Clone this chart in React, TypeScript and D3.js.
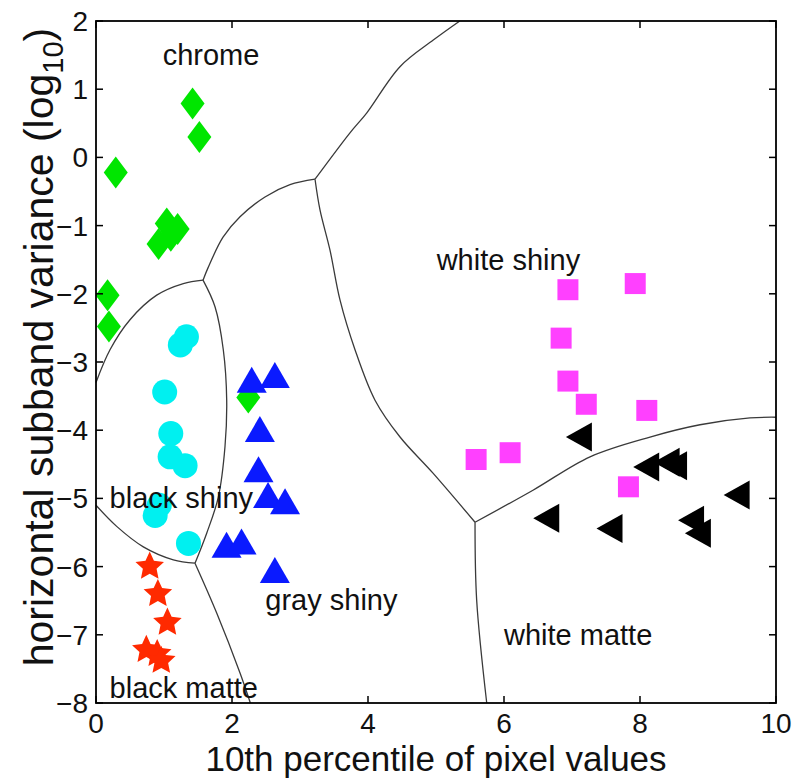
import React from "react";
import * as d3 from "d3";

// ---------- data ----------
const xTicks = [0, 2, 4, 6, 8, 10];
const yTicks = [2, 1, 0, -1, -2, -3, -4, -5, -6, -7, -8];

const chrome: [number, number][] = [
  [1.42, 0.79], [1.52, 0.30], [0.29, -0.22], [1.04, -0.97], [1.20, -1.05],
  [1.10, -1.15], [0.92, -1.27], [0.17, -2.02], [0.19, -2.48], [2.24, -3.52],
];
const blackShiny: [number, number][] = [
  [1.33, -2.63], [1.24, -2.75], [1.01, -3.44], [1.10, -4.05], [1.09, -4.39],
  [1.31, -4.52], [0.93, -5.10], [0.87, -5.25], [1.36, -5.66],
];
const blackMatte: [number, number][] = [
  [0.79, -6.0], [0.91, -6.4], [1.05, -6.82], [0.74, -7.22], [0.90, -7.28], [0.96, -7.38],
];
const grayShiny: [number, number][] = [
  [2.29, -3.32], [2.63, -3.25], [2.41, -4.04], [2.39, -4.63], [2.53, -5.01],
  [2.78, -5.10], [1.92, -5.74], [2.14, -5.69], [2.63, -6.11],
];
const whiteShiny: [number, number][] = [
  [6.94, -1.94], [7.93, -1.85], [6.84, -2.65], [6.94, -3.28], [7.21, -3.62],
  [8.10, -3.71], [6.09, -4.33], [5.59, -4.43], [7.83, -4.83],
];
const whiteMatte: [number, number][] = [
  [7.16, -4.10], [8.15, -4.54], [8.45, -4.47], [8.56, -4.52], [9.48, -4.95],
  [6.68, -5.29], [7.61, -5.44], [8.81, -5.32], [8.91, -5.51],
];

// decision boundaries (data coordinates)
const boundaryChromeBlackShiny: [number, number][] = [
  [0, -3.3], [0.206, -2.82], [0.5, -2.38], [0.893, -2.02], [1.284, -1.85], [1.574, -1.80],
];
const boundaryChromeGrayShiny: [number, number][] = [
  [1.574, -1.80], [1.647, -1.62], [1.868, -1.17], [2.118, -0.87], [2.485, -0.58], [2.853, -0.40], [3.221, -0.32],
];
const boundaryChromeWhiteShiny: [number, number][] = [
  [3.221, -0.32], [3.735, 0.36], [3.98, 0.65], [4.47, 1.33], [4.96, 1.72], [5.35, 2.0],
];
const boundaryGrayWhiteShiny: [number, number][] = [
  [3.221, -0.32], [3.294, -0.77], [3.441, -1.36], [3.588, -2.09], [3.809, -2.82],
  [4.103, -3.56], [4.471, -4.10], [4.956, -4.63], [5.574, -5.35],
];
const boundaryWhiteShinyMatte: [number, number][] = [
  [5.574, -5.35], [6.426, -4.88], [7.265, -4.39], [8.147, -4.10], [8.882, -3.92], [9.618, -3.82], [10, -3.81],
];
const boundaryGrayWhiteMatte: [number, number][] = [
  [5.574, -5.35], [5.598, -6.49], [5.746, -8.0],
];
const boundaryBlackGrayShiny: [number, number][] = [
  [1.574, -1.80], [1.75, -2.19], [1.872, -2.82], [1.922, -3.56], [1.897, -4.24],
  [1.799, -4.98], [1.628, -5.51], [1.456, -5.95],
];
const boundaryBlackShinyMatte: [number, number][] = [
  [0, -5.10], [0.304, -5.41], [0.696, -5.71], [1.137, -5.90], [1.456, -5.95],
];
const boundaryBlackMatteGray: [number, number][] = [
  [1.456, -5.95], [1.775, -6.68], [2.118, -7.56], [2.27, -8.0],
];

const boundaries = [
  boundaryChromeBlackShiny, boundaryChromeGrayShiny, boundaryChromeWhiteShiny,
  boundaryGrayWhiteShiny, boundaryWhiteShinyMatte, boundaryGrayWhiteMatte,
  boundaryBlackGrayShiny, boundaryBlackShinyMatte, boundaryBlackMatteGray,
];

const regionLabels: { text: string; x: number; y: number }[] = [
  { text: "chrome", x: 0.98, y: 1.35 },
  { text: "white shiny", x: 5.01, y: -1.65 },
  { text: "black shiny", x: 0.2, y: -5.14 },
  { text: "gray shiny", x: 2.49, y: -6.64 },
  { text: "white matte", x: 6.0, y: -7.15 },
  { text: "black matte", x: 0.2, y: -7.92 },
];

// ---------- layout ----------
const W = 796;
const H = 779;
const L = 96, R = 776, T = 21, B = 703;
const FONT = '"Liberation Sans", Arial, Helvetica, sans-serif';

const x = d3.scaleLinear().domain([0, 10]).range([L, R]);
const y = d3.scaleLinear().domain([-8, 2]).range([B, T]);

const line = d3
  .line<[number, number]>()
  .x((d) => x(d[0]))
  .y((d) => y(d[1]))
  .curve(d3.curveCatmullRom.alpha(0.5));

// marker shapes (pixel geometry)
const diamond = (cx: number, cy: number) =>
  `M${cx},${cy - 16}L${cx + 12},${cy}L${cx},${cy + 16}L${cx - 12},${cy}Z`;
const triUp = (cx: number, cy: number) =>
  `M${cx},${cy - 17}L${cx + 15},${cy + 9}L${cx - 15},${cy + 9}Z`;
const triLeft = (cx: number, cy: number) =>
  `M${cx - 17},${cy}L${cx + 9},${cy - 14.5}L${cx + 9},${cy + 14.5}Z`;
const square = (cx: number, cy: number) =>
  `M${cx - 10.5},${cy - 10.5}h21v21h-21Z`;
const star = (cx: number, cy: number) => {
  const pts: string[] = [];
  const ro = 15, ri = 7.2;
  for (let i = 0; i < 10; i++) {
    const r = i % 2 === 0 ? ro : ri;
    const a = -Math.PI / 2 + (i * Math.PI) / 5;
    pts.push(`${cx + r * Math.cos(a)},${cy + r * Math.sin(a)}`);
  }
  return `M${pts.join("L")}Z`;
};

export default function App() {
  return (
    <svg
      width={W}
      height={H}
      viewBox={`0 0 ${W} ${H}`}
      style={{ position: "absolute", left: 0, top: 0, background: "#fff" }}
      fontFamily={FONT}
    >
      <rect x={0} y={0} width={W} height={H} fill="#fff" />
      {/* boundaries */}
      <g fill="none" stroke="#3a3a3a" strokeWidth={1.3}>
        {boundaries.map((b, i) => (
          <path key={i} d={line(b) || ""} />
        ))}
      </g>

      {/* points */}
      <g fill="#00e600">
        {chrome.map((d, i) => (
          <path key={i} d={diamond(x(d[0]), y(d[1]))} />
        ))}
      </g>
      <g fill="#00f0f0">
        {blackShiny.map((d, i) => (
          <circle key={i} cx={x(d[0])} cy={y(d[1])} r={12.5} />
        ))}
      </g>
      <g fill="#ff2a00">
        {blackMatte.map((d, i) => (
          <path key={i} d={star(x(d[0]), y(d[1]))} />
        ))}
      </g>
      <g fill="#0a1aff">
        {grayShiny.map((d, i) => (
          <path key={i} d={triUp(x(d[0]), y(d[1]))} />
        ))}
      </g>
      <g fill="#ff40ff">
        {whiteShiny.map((d, i) => (
          <path key={i} d={square(x(d[0]), y(d[1]))} />
        ))}
      </g>
      <g fill="#000">
        {whiteMatte.map((d, i) => (
          <path key={i} d={triLeft(x(d[0]), y(d[1]))} />
        ))}
      </g>

      {/* region labels */}
      <g fontSize={29} fill="#111">
        {regionLabels.map((l) => (
          <text key={l.text} x={x(l.x)} y={y(l.y)}>
            {l.text}
          </text>
        ))}
      </g>

      {/* axes box */}
      <rect x={L} y={T} width={R - L} height={B - T} fill="none" stroke="#000" strokeWidth={1.8} />
      <g stroke="#000" strokeWidth={1.5}>
        {xTicks.map((t) => (
          <g key={"x" + t}>
            <line x1={x(t)} x2={x(t)} y1={B} y2={B - 7} />
            <line x1={x(t)} x2={x(t)} y1={T} y2={T + 7} />
          </g>
        ))}
        {yTicks.map((t) => (
          <g key={"y" + t}>
            <line x1={L} x2={L + 7} y1={y(t)} y2={y(t)} />
            <line x1={R} x2={R - 7} y1={y(t)} y2={y(t)} />
          </g>
        ))}
      </g>
      <g fontSize={28} fill="#111">
        {xTicks.map((t) => (
          <text key={"xl" + t} x={x(t)} y={B + 30} textAnchor="middle">
            {String(t)}
          </text>
        ))}
        {yTicks.map((t) => (
          <text key={"yl" + t} x={L - 8} y={y(t) + 10} textAnchor="end">
            {t < 0 ? "\u2212" + Math.abs(t) : String(t)}
          </text>
        ))}
      </g>

      {/* axis titles */}
      <text x={(L + R) / 2} y={771} fontSize={35} textAnchor="middle" fill="#111">
        10th percentile of pixel values
      </text>
      <text
        transform={`translate(53,347) rotate(-90)`}
        fontSize={41}
        textAnchor="middle"
        fill="#111"
      >
        horizontal subband variance (log
        <tspan dy={10} fontSize={29}>10</tspan>
        <tspan dy={-10}>)</tspan>
      </text>
    </svg>
  );
}
